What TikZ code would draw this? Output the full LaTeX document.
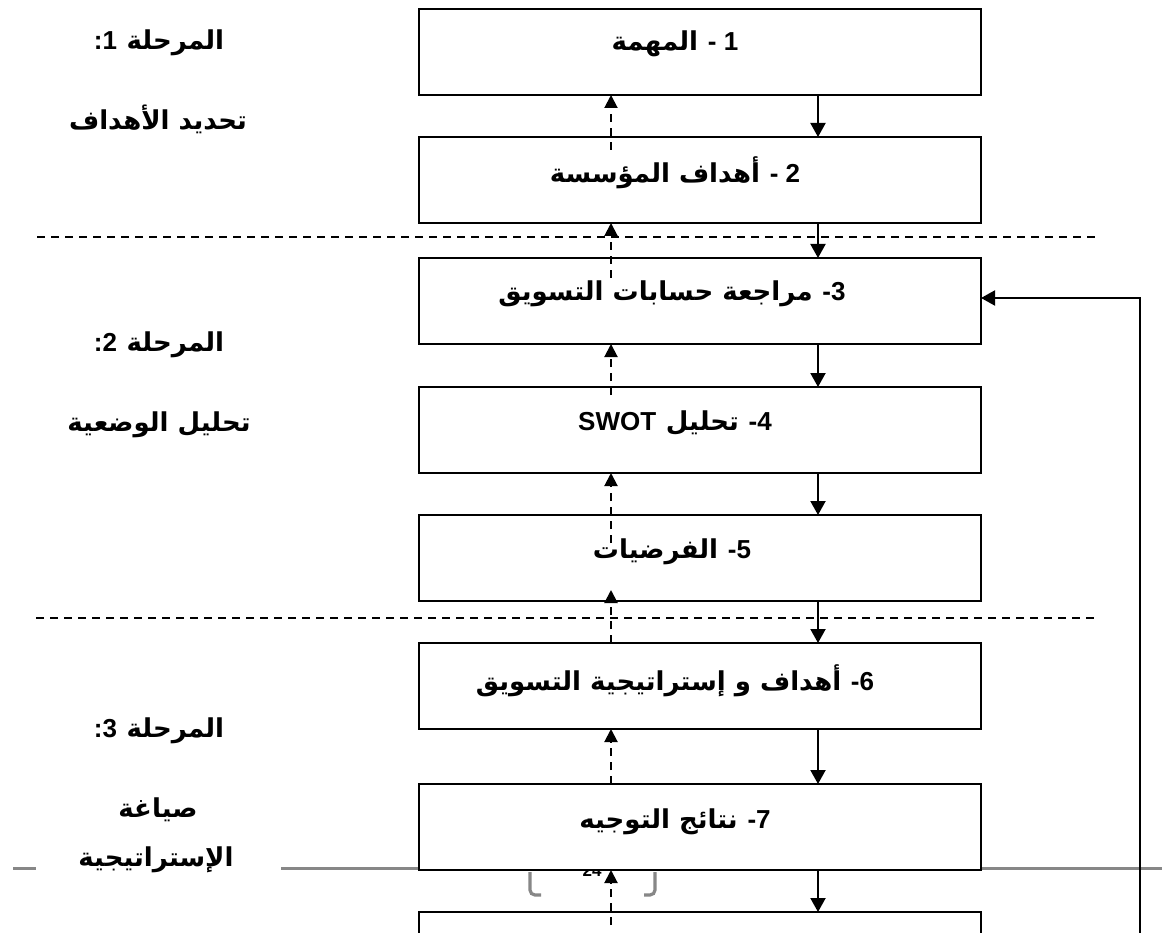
\documentclass[tikz,border=0pt]{standalone}
\usepackage{fontspec}
\TeXXeTstate=1
\newfontfamily\arf[Script=Arabic]{DejaVu Sans}
\newfontfamily\latf{Liberation Sans}
\usetikzlibrary{arrows.meta,calc}
\tikzset{
  box/.style={draw=black, line width=2.4pt, fill=white, minimum width=562pt, minimum height=86pt, anchor=north west, inner sep=0pt, outer sep=0pt},
  boxtext/.style={inner sep=0pt, font=\bfseries\fontsize{26}{30}\selectfont, anchor=center},
  stagetext/.style={inner sep=0pt, font=\bfseries\fontsize{26}{30}\selectfont, anchor=center},
  flow/.style={-{Triangle[length=14pt,width=15pt]}, line width=2pt},
  back/.style={-{Triangle[length=13pt,width=13pt]}, line width=2pt, dash pattern=on 8pt off 6pt},
  sepline/.style={line width=1.5pt, dash pattern=on 8pt off 6pt},
  grayline/.style={draw=black!47, line width=3pt},
  bracketline/.style={draw=black!47, line width=3.2pt, rounded corners=5pt},
}
\begin{document}
\begin{tikzpicture}[x=1pt,y=-1pt]
\useasboundingbox (0,0) rectangle (1162,933);
\clip (0,0) rectangle (1162,933);
\fill[white] (0,0) rectangle (1162,933);
% footer elements
\draw[grayline] (13,868) -- (36,868);
\draw[grayline] (281,868) -- (1162,868);
\draw[bracketline] (530,872) -- (530,895) -- (541,895);
\draw[bracketline] (655,872) -- (655,895) -- (644,895);
\node[inner sep=0pt, font=\latf\bfseries\fontsize{17}{19}\selectfont] (pg) at (592,871) {\beginL 24\endL};
% boxes
\node[box] (b1) at (419,9) {};
\node[box] (b2) at (419,137) {};
\node[box] (b3) at (419,258) {};
\node[box] (b4) at (419,387) {};
\node[box] (b5) at (419,515) {};
\node[box] (b6) at (419,643) {};
\node[box] (b7) at (419,784) {};
\node[box] (b8) at (419,912) {};
% box texts
\node[boxtext] (t1) at (675,44) {{\arf المهمة} {\latf - 1}};
\node[boxtext] (t2) at (675,173) {{\arf\beginR أهداف المؤسسة\endR} {\latf - 2}};
\node[boxtext] (t3) at (672,294) {{\arf\beginR مراجعة حسابات التسويق\endR} {\latf -3}};
\node[boxtext] (t4) at (675,423) {{\latf SWOT} {\arf تحليل} {\latf -4}};
\node[boxtext] (t5) at (672,552) {{\arf الفرضيات} {\latf -5}};
\node[boxtext] (t6) at (675,681) {{\arf\beginR أهداف و إستراتيجية التسويق\endR} {\latf -6}};
\node[boxtext] (t7) at (675,822) {{\arf\beginR نتائج التوجيه\endR} {\latf -7}};
% stage labels
\node[stagetext] (l1a) at (159,43) {{\latf :1} {\arf المرحلة}};
\node[stagetext] (l1b) at (158,119) {{\arf\beginR تحديد الأهداف\endR}};
\node[stagetext] (l2a) at (159,345) {{\latf :2} {\arf المرحلة}};
\node[stagetext] (l2b) at (159,425) {{\arf\beginR تحليل الوضعية\endR}};
\node[stagetext] (l3a) at (159,731) {{\latf :3} {\arf المرحلة}};
\node[stagetext] (l3b) at (158,810) {{\arf صياغة}};
\node[stagetext] (l3c) at (156,860) {{\arf الإستراتيجية}};
% separators
\coordinate (s1a) at (37,237); \coordinate (s1b) at (1095,237);
\coordinate (s2a) at (36,618); \coordinate (s2b) at (1095,618);
\draw[sepline] (s1a) -- (s1b);
\draw[sepline] (s2a) -- (s2b);
% flow columns
\coordinate (sx) at (818,0);
\coordinate (dx) at (611,0);
\draw[flow] (b1.south -| sx) -- (b2.north -| sx);
\draw[flow] (b2.south -| sx) -- (b3.north -| sx);
\draw[flow] (b3.south -| sx) -- (b4.north -| sx);
\draw[flow] (b4.south -| sx) -- (b5.north -| sx);
\draw[flow] (b5.south -| sx) -- (b6.north -| sx);
\draw[flow] (b6.south -| sx) -- (b7.north -| sx);
\draw[flow] (b7.south -| sx) -- (b8.north -| sx);
% dashed feedback arrows
\draw[back] ($(b2.north -| dx)+(0,13)$) -- (b1.south -| dx);
\draw[back] ($(b3.north -| dx)+(0,20)$) -- (b2.south -| dx);
\draw[back] ($(b4.north -| dx)+(0,8)$) -- (b3.south -| dx);
\draw[back] ($(b5.north -| dx)+(0,28)$) -- (b4.south -| dx);
\draw[back] (b6.north -| dx) -- ($(b5.south -| dx)+(0,-11)$);
\draw[back] (b7.north -| dx) -- (b6.south -| dx);
\draw[back] ($(b8.north -| dx)+(0,13)$) -- (b7.south -| dx);
% long return loop
\coordinate (fb) at (1140,960);
\draw[flow] (fb) |- ($(b3.east)+(0,-3)$);
\end{tikzpicture}
\end{document}
